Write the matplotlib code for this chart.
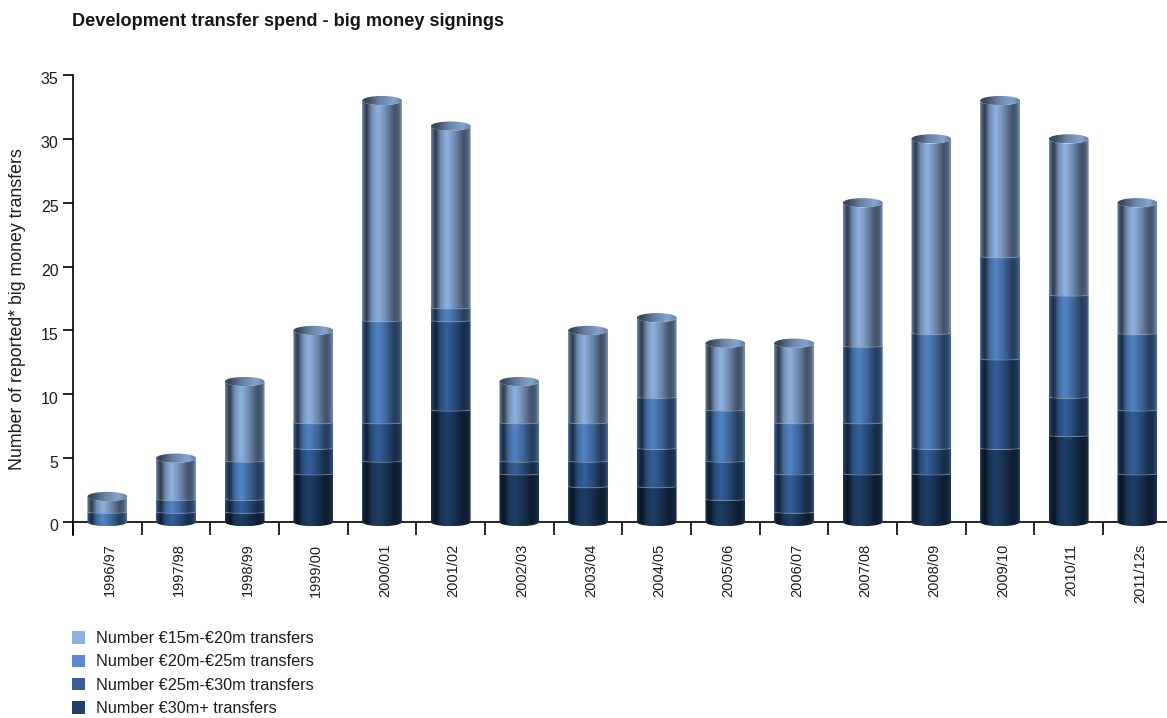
import numpy as np
import matplotlib
matplotlib.use("Agg")
import matplotlib.pyplot as plt
from matplotlib.patches import Patch, PathPatch, Ellipse
from matplotlib.path import Path
from matplotlib.colors import to_rgb
from matplotlib.transforms import ScaledTranslation

plt.rcParams["font.family"] = ["Liberation Sans", "DejaVu Sans"]

seasons = ["1996/97", "1997/98", "1998/99", "1999/00", "2000/01", "2001/02", "2002/03", "2003/04",
           "2004/05", "2005/06", "2006/07", "2007/08", "2008/09", "2009/10", "2010/11", "2011/12s"]

# stacked from the bottom up
over_30m = [0, 0, 1, 4, 5, 9, 4, 3, 3, 2, 1, 4, 4, 6, 7, 4]
m25_30 = [0, 1, 1, 2, 3, 7, 1, 2, 3, 3, 3, 4, 2, 7, 3, 5]
m20_25 = [1, 1, 3, 2, 8, 1, 3, 3, 4, 4, 4, 6, 9, 8, 8, 6]
m15_20 = [1, 3, 6, 7, 17, 14, 3, 7, 6, 5, 6, 11, 15, 12, 12, 10]

labels = ["Number €30m+ transfers", "Number €25m-€30m transfers",
          "Number €20m-€25m transfers", "Number €15m-€20m transfers"]
series = [over_30m, m25_30, m20_25, m15_20]
colors = ["#1f3f66", "#33609a", "#5285c6", "#8fb1e0"]
legend_colors = ["#24406a", "#375f94", "#5c8aca", "#90b2e0"]

TEXT = "#1c1c24"
BAR_W = 0.58
CAP_H = 0.36      # half height of the top ellipse
FOOT_H = 0.33     # sag at the foot of the cylinder
JOIN_DROP = 0.22  # joints sit a little under the value
JOIN_H = 0.10

# horizontal shading of the cylinder: position, brightness factor
prof_x = [0.0, 0.03, 0.11, 0.24, 0.40, 0.60, 0.82, 0.93, 0.98, 1.0]
prof_v = [0.78, 0.62, 0.32, 0.80, 1.0, 0.78, 0.46, 0.55, 0.82, 0.74]
cap_x = [0.0, 0.12, 0.45, 0.80, 1.0]
cap_v = [0.42, 0.40, 0.74, 0.92, 0.70]


def shade(color, xs, vs):
    t = np.linspace(0, 1, 128)
    return np.outer(np.interp(t, xs, vs), to_rgb(color))[np.newaxis, :, :]


def arc(cx, y, sag, reverse=False):
    t = np.linspace(np.pi, 2 * np.pi, 30)
    xs, ys = cx + BAR_W / 2 * np.cos(t), y + sag * np.sin(t)
    pts = np.column_stack([xs, ys])
    return pts[::-1] if reverse else pts


def draw_gradient(ax, path, extent, rgb, zorder):
    im = ax.imshow(rgb, extent=extent, aspect="auto", interpolation="bilinear", zorder=zorder)
    clip = PathPatch(path, transform=ax.transData)
    im.set_clip_path(clip)


fig = plt.figure(figsize=(11.67, 7.18), dpi=100)
# y=0 at pixel 522, y=35 at pixel 75; the axes run a little under zero for the cylinder feet
ax = fig.add_axes([73 / 1167, 1 - 535 / 718, 1 - 73 / 1167, (535 - 75) / 718])

for i in range(len(seasons)):
    base = 0
    vals = [s[i] for s in series]
    top_idx = max(j for j, v in enumerate(vals) if v > 0)
    total = sum(vals)
    for j, v in enumerate(vals):
        if v == 0:
            continue
        top = base + v
        low_y, low_sag = (0, FOOT_H) if base == 0 else (base - JOIN_DROP, JOIN_H)
        up_y, up_sag = (total, CAP_H) if j == top_idx else (top - JOIN_DROP, JOIN_H)
        pts = np.vstack([arc(i, low_y, low_sag), arc(i, up_y, up_sag, reverse=True)])
        path = Path(np.vstack([pts, pts[:1]]), closed=True)
        extent = (i - BAR_W / 2, i + BAR_W / 2, low_y - low_sag, up_y + 0.01)
        draw_gradient(ax, path, extent, shade(colors[j], prof_x, prof_v), 3 + j * 0.1)
        if j != top_idx:
            joint = arc(i, up_y, up_sag)
            ax.plot(joint[:, 0], joint[:, 1], color="#8d9cb2", lw=0.8, alpha=0.4, zorder=3.6)
        base = top
    # top ellipse
    cap = Ellipse((i, total), BAR_W, 2 * CAP_H)
    cap_path = cap.get_patch_transform().transform_path(cap.get_path())
    draw_gradient(ax, cap_path, (i - BAR_W / 2, i + BAR_W / 2, total - CAP_H, total + CAP_H),
                  shade(colors[top_idx], cap_x, cap_v), 4)

ax.set_xlim(-0.5, -0.5 + (1167 - 73) / 68.67)
ax.set_ylim(-13 / 12.77, 35)

for side in ["top", "right"]:
    ax.spines[side].set_visible(False)
ax.spines["bottom"].set_position(("data", 0))
ax.spines["bottom"].set_linewidth(1.2)
ax.spines["left"].set_linewidth(1.2)
ax.patch.set_visible(False)

ax.set_yticks(range(0, 36, 5))
ax.tick_params(axis="y", length=7.5, width=1.2, pad=3, labelsize=11.5, labelcolor=TEXT)
# the numbers sit a little under their ticks
nudge = ScaledTranslation(0, -2.5 / 72, fig.dpi_scale_trans)
for lab in ax.get_yticklabels():
    lab.set_transform(lab.get_transform() + nudge)

# ticks sit between the seasons, labels on the seasons
ax.set_xticks(np.arange(len(seasons)) - 0.5)
ax.set_xticklabels([])
ax.set_xticks(np.arange(len(seasons)) + 0.04, minor=True)
ax.set_xticklabels(seasons, minor=True, rotation=90, va="top", ha="center",
                   fontsize=10.5, color=TEXT)
ax.tick_params(axis="x", which="major", length=9.5, width=1.2, direction="out")
ax.tick_params(axis="x", which="minor", length=0, pad=15.5)

fig.text(72 / 1167, 1 - 22 / 718, "Development transfer spend - big money signings",
         fontsize=13.1, fontweight="bold", color="#15151c", va="center", ha="left")
fig.text(18 / 1167, 1 - 309 / 718, "Number of reported* big money transfers",
         fontsize=12.75, rotation=90, color=TEXT, va="center", ha="center")

handles = [Patch(facecolor=c, edgecolor="none") for c in legend_colors[::-1]]
fig.legend(handles, labels[::-1], loc="lower left", bbox_to_anchor=(66.5 / 1167, -4 / 718),
           frameon=False, fontsize=11.7, labelcolor=TEXT, handlelength=0.8, handleheight=0.8,
           handletextpad=0.68, labelspacing=0.52, borderaxespad=0, borderpad=0.35)

fig.savefig("out.png", dpi=100)
